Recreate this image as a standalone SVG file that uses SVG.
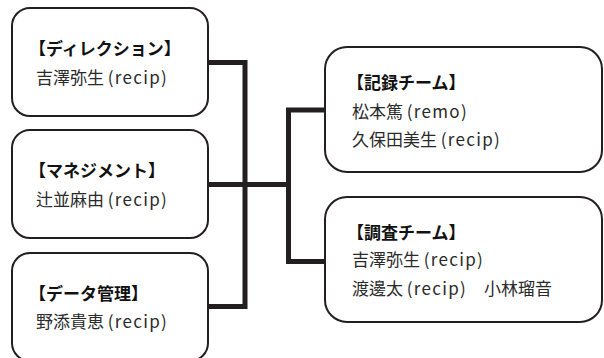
<svg xmlns="http://www.w3.org/2000/svg" width="604" height="358" viewBox="0 0 604 358">
<style>
.box{fill:#fff;stroke:#231f20;stroke-width:2}
.conn{fill:none;stroke:#231f20;stroke-width:5;stroke-linejoin:miter}
.t{font-family:"Noto Sans CJK JP","Noto Sans",sans-serif;font-size:17px;font-weight:700;fill:#111}
.s{font-family:"Noto Sans CJK JP","Noto Sans",sans-serif;font-size:17px;font-weight:400;fill:#2a2a2a}
.l{letter-spacing:1.3px}
</style>
<rect width="604" height="358" fill="#fff"/>
<g id="connectors">
<path class="conn" d="M208 62.5 H245 V306.5 H208"/>
<path class="conn" d="M208 184.5 H288.5"/>
<path class="conn" d="M325 110 H288.5 V261.5 H325"/>
</g>
<g id="direction">
<rect class="box" x="12" y="8" width="196" height="108" rx="18"/>
<text class="t" x="29" y="55">【ディレクション】</text>
<text class="s" x="36" y="84">吉澤弥生 <tspan class="l">(recip)</tspan></text>
</g>
<g id="management">
<rect class="box" x="12" y="130" width="196" height="108" rx="18"/>
<text class="t" x="29" y="177">【マネジメント】</text>
<text class="s" x="36" y="206">辻並麻由 <tspan class="l">(recip)</tspan></text>
</g>
<g id="data">
<rect class="box" x="12" y="253" width="196" height="108" rx="18"/>
<text class="t" x="29" y="300">【データ管理】</text>
<text class="s" x="36" y="328">野添貴恵 <tspan class="l">(recip)</tspan></text>
</g>
<g id="record">
<rect class="box" x="325" y="47" width="277" height="125" rx="22"/>
<text class="t" x="347" y="89">【記録チーム】</text>
<text class="s" x="352" y="118">松本篤 <tspan class="l">(remo)</tspan></text>
<text class="s" x="352" y="146">久保田美生 <tspan class="l">(recip)</tspan></text>
</g>
<g id="survey">
<rect class="box" x="325" y="197" width="277" height="125" rx="22"/>
<text class="t" x="347" y="239">【調査チーム】</text>
<text class="s" x="352" y="266">吉澤弥生 <tspan class="l">(recip)</tspan></text>
<text class="s" x="352" y="295">渡邊太 <tspan class="l">(recip)</tspan><tspan x="484">小林瑠音</tspan></text>
</g>
</svg>
